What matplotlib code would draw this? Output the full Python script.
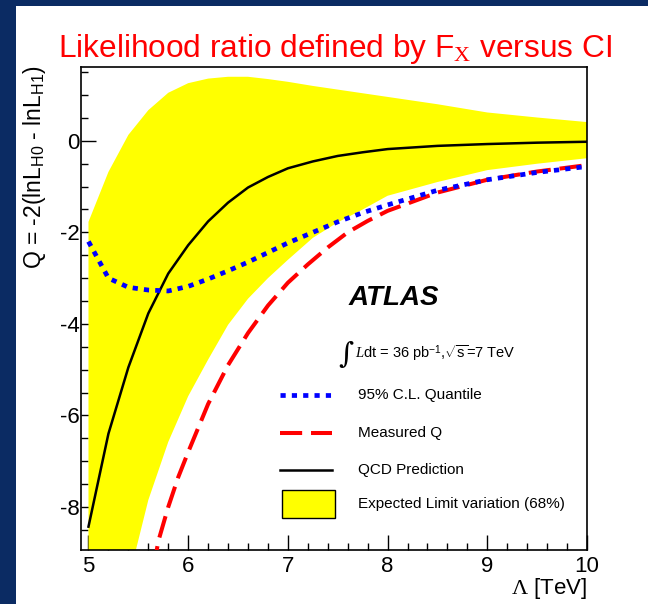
import numpy as np
import matplotlib
matplotlib.use("Agg")
import matplotlib.pyplot as plt
from matplotlib.patches import Rectangle
from matplotlib.lines import Line2D

plt.rcParams['font.family'] = ['Liberation Sans', 'DejaVu Sans']
plt.rcParams['axes.unicode_minus'] = False
plt.rcParams['mathtext.fontset'] = 'custom'
plt.rcParams['mathtext.rm'] = 'Liberation Serif'
plt.rcParams['mathtext.it'] = 'Liberation Serif:italic'
plt.rcParams['mathtext.sf'] = 'Liberation Sans'

# --- data ---
lam = [5.0, 5.2, 5.4, 5.6, 5.8, 6.0, 6.2, 6.4, 6.6, 6.8, 7.0,
       7.25, 7.5, 7.75, 8.0, 8.5, 9.0, 9.5, 10.0]
band_hi = [-1.77, -0.68, 0.13, 0.67, 1.05, 1.26, 1.36, 1.40, 1.40, 1.35, 1.29,
           1.20, 1.12, 1.04, 0.96, 0.80, 0.62, 0.51, 0.41]
band_lo = [-13.0, -11.2, -9.6, -7.85, -6.58, -5.58, -4.78, -4.02, -3.45, -3.0, -2.6,
           -2.12, -1.78, -1.5, -1.2, -0.9, -0.64, -0.5, -0.38]
quantile = [-2.2, -3.0, -3.2, -3.26, -3.28, -3.18, -3.02, -2.84, -2.65, -2.44, -2.23,
            -2.0, -1.77, -1.57, -1.40, -1.08, -0.85, -0.69, -0.56]
qcd = [-8.43, -6.4, -4.95, -3.77, -2.9, -2.28, -1.76, -1.35, -1.02, -0.79, -0.60,
       -0.45, -0.33, -0.25, -0.18, -0.11, -0.07, -0.04, -0.02]

lam_meas = [5.6, 5.7, 5.8, 5.9, 6.0, 6.2, 6.4, 6.6, 6.8, 7.0, 7.2, 7.4, 7.6,
            7.8, 8.0, 8.5, 9.0, 9.5, 10.0]
measured = [-10.0, -8.75, -8.0, -7.35, -6.8, -5.75, -4.9, -4.2, -3.6, -3.1, -2.7,
            -2.33, -2.0, -1.75, -1.53, -1.13, -0.85, -0.67, -0.53]

W, H = 648, 604
fig = plt.figure(figsize=(W / 100, H / 100), dpi=100)
fig.patch.set_facecolor('#0b2b63')
fig.patches.append(Rectangle((16 / W, 0), 1 - 16 / W, 1 - 6 / H,
                             transform=fig.transFigure, facecolor='white',
                             edgecolor='none', zorder=-5))

ax = fig.add_axes([81 / W, 1 - 550 / H, 506 / W, 483.3 / H], zorder=2)
ax.set_axisbelow(True)

ax.fill_between(lam, band_lo, band_hi, color='#ffff00', linewidth=0, zorder=1)
ax.plot(lam, qcd, color='black', lw=1.8, zorder=3)
ax.plot(lam_meas, measured, color='#ff0000', lw=2.9,
        linestyle=(0, (5.5, 2.2)), zorder=3)
ax.plot(lam, quantile, color='#0000ff', lw=3.4,
        linestyle=(0, (1.1, 1.3)), dash_capstyle='butt', zorder=4)

ax.set_xlim(4.925, 10)
ax.set_ylim(-8.94, 1.62)
ax.set_xticks([5, 6, 7, 8, 9, 10])
ax.set_xticks(np.arange(5, 10.01, 0.2), minor=True)
ax.set_yticks([-8, -6, -4, -2, 0])
ax.set_yticks(np.arange(-8.5, 1.6, 0.5), minor=True)
ax.tick_params(which='both', direction='in', top=False, right=False,
               width=1, labelsize=16)
ax.tick_params(which='major', length=10.5)
ax.tick_params(which='minor', length=5)
ax.tick_params(axis='x', pad=4)
ax.tick_params(axis='y', pad=1)
for s in ax.spines.values():
    s.set_linewidth(1.2)

# legend block
lx0, lx1 = 0.393, 0.496
ax.add_line(Line2D([lx0, lx1], [0.321, 0.321], transform=ax.transAxes,
                   color='#0000ff', lw=3.4, linestyle=(0, (1.1, 1.3)),
                   dash_capstyle='butt'))
ax.add_line(Line2D([lx0, lx1], [0.243, 0.243], transform=ax.transAxes,
                   color='#ff0000', lw=2.9, linestyle=(0, (5.5, 2.2))))
ax.add_line(Line2D([lx0, lx1], [0.166, 0.166], transform=ax.transAxes,
                   color='black', lw=1.8))
ax.add_patch(Rectangle((0.397, 0.066), 0.105, 0.058, transform=ax.transAxes,
                       facecolor='#ffff00', edgecolor='black', lw=1))
labels = ['95% C.L. Quantile', 'Measured Q', 'QCD Prediction',
          'Expected Limit variation (68%)']
for lab, yy in zip(labels, [0.321, 0.243, 0.166, 0.095]):
    ax.text(0.547, yy, lab, transform=ax.transAxes, fontsize=11,
            va='center', ha='left')

ax.text(0.528, 0.521, 'ATLAS', transform=ax.transAxes, fontsize=20,
        fontweight='bold', fontstyle='italic', va='center', ha='left')
ax.text(0.509, 0.404, '\u222b', transform=ax.transAxes, fontsize=21,
        family='DejaVu Serif', va='center', ha='left')
ax.text(0.541, 0.408,
        r'$\mathit{L}$dt = 36 pb$^{\mathsf{-1}}$,$\sqrt{\mathsf{s}}$=7 TeV',
        transform=ax.transAxes, fontsize=10.5, va='center', ha='left')

fig.text(335 / W, 1 - 57 / H,
         r'Likelihood ratio defined by F$_{\mathrm{X}}$ versus CI',
         color='#ff0000', fontsize=22.8, ha='center', va='baseline')
fig.text(35 / W, 1 - 65 / H,
         r'Q = -2(lnL$_{\mathsf{H0}}$ - lnL$_{\mathsf{H1}}$)',
         rotation=90, fontsize=16.5, ha='center', va='top')
fig.text(587 / W, 1 - 594 / H, r'$\mathrm{\Lambda}$ [TeV]',
         fontsize=16, ha='right', va='baseline')

fig.savefig('out.png', dpi=100, facecolor=fig.get_facecolor())
